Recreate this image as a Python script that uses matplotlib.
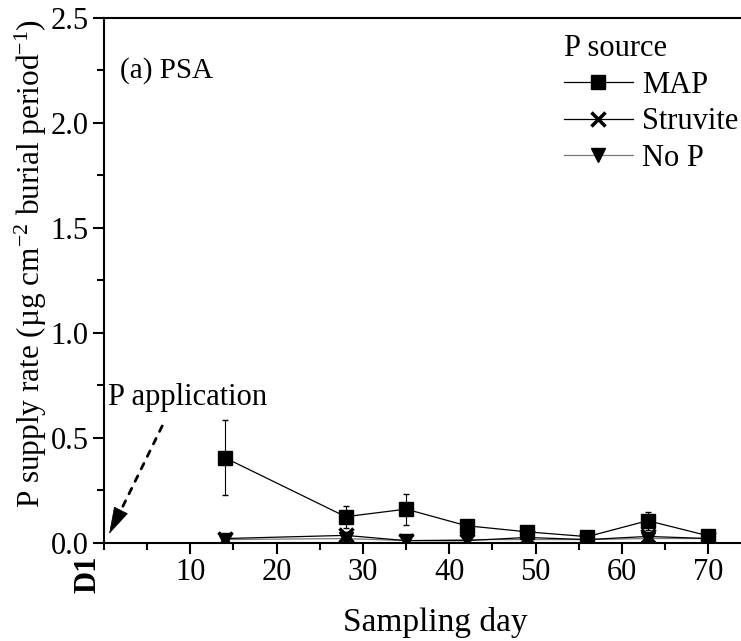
import numpy as np
import matplotlib
matplotlib.use('Agg')
import matplotlib.pyplot as plt

plt.rcParams['font.family'] = ['Liberation Serif', 'DejaVu Serif']
plt.rcParams['mathtext.fontset'] = 'custom'
plt.rcParams['mathtext.rm'] = 'Liberation Serif'
plt.rcParams['mathtext.it'] = 'Liberation Serif:italic'

days = [14, 28, 35, 42, 49, 56, 63, 70]
map_rate = [0.405, 0.124, 0.160, 0.081, 0.052, 0.029, 0.105, 0.033]
map_err = [0.178, 0.052, 0.074, 0.012, 0.010, 0.008, 0.043, 0.010]
struvite_rate = [0.020, 0.035, 0.010, 0.010, 0.025, 0.015, 0.030, 0.020]
struvite_err = [0.005, 0.010, 0.005, 0.005, 0.008, 0.004, 0.010, 0.005]
nop_rate = [0.015, 0.020, 0.010, 0.015, 0.015, 0.015, 0.020, 0.020]
nop_err = [0.004, 0.005, 0.003, 0.004, 0.004, 0.003, 0.005, 0.004]

fs = 22
fig = plt.figure(figsize=(7.41, 6.41), dpi=100)
ax = fig.add_axes([0.1403, 0.1533, 0.8597, 0.8191])

e_nop = ax.errorbar(days, nop_rate, yerr=nop_err, color='#777777', lw=0.9, marker='v',
                    ms=10, mfc='black', mec='black', ecolor='black', elinewidth=0.8,
                    capsize=2.5, zorder=3)
e_str = ax.errorbar(days, struvite_rate, yerr=struvite_err, color='black', lw=0.9,
                    marker='x', ms=10.5, mew=2.5, ecolor='black', elinewidth=0.8,
                    capsize=2.5, zorder=4)
e_map = ax.errorbar(days, map_rate, yerr=map_err, color='black', lw=0.9, marker='s',
                    ms=10, ecolor='black', elinewidth=0.8, capsize=2.5, zorder=5)

ax.set_xlim(0, 73.8)
ax.set_ylim(0, 2.5)
ax.set_xticks([10, 20, 30, 40, 50, 60, 70])
ax.set_xticks(np.arange(0, 75, 5), minor=True)
ax.set_yticks([0.0, 0.5, 1.0, 1.5, 2.0, 2.5])
ax.set_yticks(np.arange(0, 2.6, 0.25), minor=True)
ax.yaxis.set_major_formatter(matplotlib.ticker.FormatStrFormatter('%.1f'))
ax.tick_params(which='major', direction='out', length=8, width=1.5, labelsize=fs, pad=3)
ax.tick_params(which='minor', direction='out', length=5, width=1.5)
ax.spines['right'].set_visible(False)
for s in ['left', 'bottom', 'top']:
    ax.spines[s].set_linewidth(1.5)

ax.set_xlabel('Sampling day', fontsize=24)
ax.xaxis.set_label_coords(0.52, -0.122)
ax.set_ylabel(r'P supply rate (µg cm$^{-2}$ burial period$^{-1}$)', fontsize=22.5)
ax.yaxis.set_label_coords(-0.086, 0.531)

ax.text(1.9, 2.25, '(a) PSA', fontsize=21, va='center', ha='left')
ax.text(0.5, 0.69, 'P application', fontsize=fs, va='center', ha='left')
# dotted shaft
ax.annotate('', xy=(1.9, 0.149), xytext=(6.75, 0.556),
            arrowprops=dict(arrowstyle='-', linestyle=(0, (2.2, 2.8)), lw=2.0,
                            color='black', shrinkA=0, shrinkB=0))
# arrow head
ax.annotate('', xy=(0.6, 0.042), xytext=(1.9, 0.149),
            arrowprops=dict(arrowstyle='-|>,head_length=0.45,head_width=0.13',
                            mutation_scale=40, lw=0.5, color='black',
                            shrinkA=0, shrinkB=0))
ax.text(-1.8, -0.15, 'D1', fontsize=fs, fontweight='bold', rotation=90,
        ha='center', va='center', clip_on=False)

leg = ax.legend([e_map[0], e_str[0], e_nop[0]], ['MAP', 'Struvite', 'No P'],
                title='P source', loc='upper left', bbox_to_anchor=(0.761, 0.947),
                bbox_transform=fig.transFigure, frameon=False, fontsize=fs,
                title_fontsize=fs, handlelength=2.25, handletextpad=0.3,
                labelspacing=0.25, borderpad=0, borderaxespad=0)
leg._legend_box.align = 'left'

fig.savefig('out.png', dpi=100)
plt.close(fig)
